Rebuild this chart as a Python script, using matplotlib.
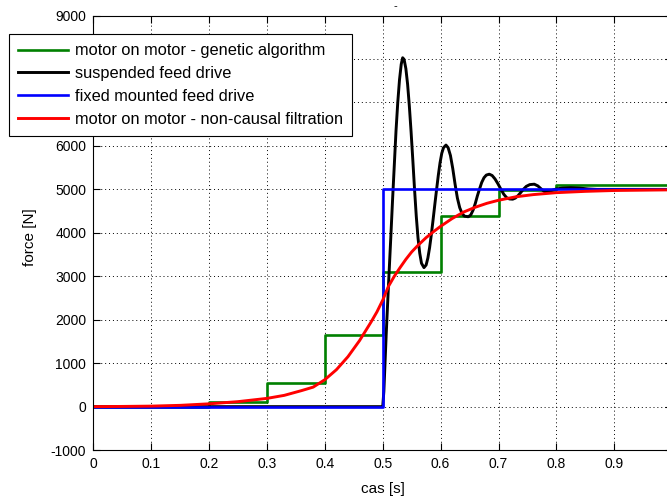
import matplotlib
matplotlib.use('Agg')
import matplotlib.pyplot as plt

plt.rcParams['font.family'] = ['Liberation Sans', 'DejaVu Sans']
plt.rcParams['axes.unicode_minus'] = False

# ---- data ----
# motor on motor - genetic algorithm (piecewise constant)
ga_edges = [0.0, 0.2, 0.3, 0.4, 0.5, 0.6, 0.7, 0.8, 1.0]
ga_levels = [0, 110, 540, 1640, 3110, 4390, 4990, 5090]

# suspended feed drive
susp_t = [0.0, 0.5, 0.502, 0.506, 0.510, 0.514, 0.517, 0.520, 0.523, 0.526,
          0.529, 0.532, 0.5345, 0.537, 0.540, 0.543, 0.546, 0.549, 0.552,
          0.555, 0.558, 0.561, 0.564, 0.567, 0.5713, 0.575, 0.578, 0.581,
          0.584, 0.587, 0.590, 0.593, 0.596, 0.599, 0.602, 0.605, 0.6093,
          0.613, 0.617, 0.621, 0.625, 0.629, 0.633, 0.637, 0.641, 0.6478,
          0.652, 0.656, 0.660, 0.6635, 0.667, 0.671, 0.675, 0.679, 0.6841,
          0.689, 0.694, 0.699, 0.7043, 0.709, 0.714, 0.719, 0.7245, 0.729,
          0.734, 0.7385, 0.7428, 0.748, 0.754, 0.7618, 0.768, 0.7746, 0.779,
          0.783, 0.789, 0.795, 0.800, 0.810, 0.825, 0.840, 0.855, 0.870, 1.0]
susp_f = [0, 0, 350, 1650, 2800, 3900, 4750, 5550, 6350, 7000,
          7520, 7880, 8030, 7990, 7780, 7420, 6920, 6330, 5680,
          5000, 4380, 3880, 3530, 3300, 3200, 3260, 3420, 3660,
          3960, 4300, 4650, 4990, 5320, 5610, 5830, 5960, 6020,
          5960, 5780, 5480, 5120, 4800, 4580, 4450, 4385, 4370,
          4410, 4520, 4680, 4850, 5000, 5160, 5270, 5330, 5350,
          5320, 5240, 5130, 5000, 4890, 4810, 4780, 4775, 4800,
          4860, 4930, 5000, 5070, 5110, 5120, 5080, 5000, 4955,
          4945, 4960, 4990, 5010, 5030, 5040, 5030, 5010, 5000, 5000]

# fixed mounted feed drive
fixed_t = [0.0, 0.5, 0.5, 1.0]
fixed_f = [0, 0, 5000, 5000]

# motor on motor - non-causal filtration
filt_t = [0.0, 0.05, 0.1, 0.15, 0.2, 0.25, 0.3, 0.33, 0.36, 0.38, 0.40,
          0.42, 0.44, 0.46, 0.48, 0.49, 0.50, 0.51, 0.52, 0.53, 0.54,
          0.55, 0.56, 0.575, 0.59, 0.60, 0.62, 0.64, 0.66, 0.68, 0.70,
          0.73, 0.76, 0.80, 0.85, 0.90, 1.0]
filt_f = [0, 5, 12, 30, 65, 115, 190, 260, 370, 450, 620,
          850, 1150, 1520, 1950, 2180, 2450, 2770, 3000, 3200, 3390,
          3560, 3700, 3890, 4050, 4150, 4330, 4480, 4590, 4680, 4750,
          4830, 4880, 4925, 4955, 4975, 4990]

labels = ['motor on motor - genetic algorithm', 'suspended feed drive',
          'fixed mounted feed drive', 'motor on motor - non-causal filtration']
x_ticks = [0, 0.1, 0.2, 0.3, 0.4, 0.5, 0.6, 0.7, 0.8, 0.9, 1.0]
x_ticklabels = ['0', '0.1', '0.2', '0.3', '0.4', '0.5', '0.6', '0.7', '0.8', '0.9', '']
y_ticks = [-1000, 0, 1000, 2000, 3000, 4000, 5000, 6000, 7000, 8000, 9000]
y_ticklabels = ['-1000', '0', '1000', '2000', '3000', '4000', '5000', '6000', '', '', '9000']

W, H = 667, 497
fig = plt.figure(figsize=(W / 100, H / 100), dpi=100)
ax = fig.add_axes([93.2 / W, 1 - 450.1 / H, 579 / W, 434.5 / H])

lw = 1.9
ax.step(ga_edges, ga_levels + [ga_levels[-1]], where='post', color='#008000', lw=lw, label=labels[0])
ax.plot(susp_t, susp_f, color='k', lw=lw + 0.2, label=labels[1])
ax.plot(fixed_t, fixed_f, color='#0000ff', lw=lw, label=labels[2])
ax.plot(filt_t, filt_f, color='#ff0000', lw=lw + 0.2, label=labels[3])

ax.set_xlim(0, 1.0)
ax.set_ylim(-1000, 9000)
ax.set_xticks(x_ticks)
ax.set_xticklabels(x_ticklabels)
ax.set_yticks(y_ticks)
ax.set_yticklabels(y_ticklabels)
ax.grid(True, color='k', linestyle=(0, (1, 3)), linewidth=0.7)
ax.tick_params(direction='in', length=5, width=0.8, top=True, right=True,
               labelsize=10, pad=5)
for s in ax.spines.values():
    s.set_linewidth(0.8)

ax.set_xlabel('cas [s]', fontsize=11)
ax.set_ylabel('force [N]', fontsize=11)
ax.xaxis.set_label_coords(0.5, -0.074)
ax.yaxis.set_label_coords(-0.0965, 0.49)

fig.text(395 / W, 1 - 6 / H, '-', ha='center', va='center', fontsize=8)

leg = ax.legend(loc='upper left', bbox_to_anchor=(9 / W, 1 - 34.3 / H),
                bbox_transform=fig.transFigure, frameon=True, fancybox=False,
                edgecolor='k', framealpha=1, fontsize=11.8, handlelength=3.05,
                handletextpad=0.43, labelspacing=0.48, borderpad=0.55,
                borderaxespad=0)
leg.get_frame().set_linewidth(0.8)

fig.savefig('out.png', dpi=100)
